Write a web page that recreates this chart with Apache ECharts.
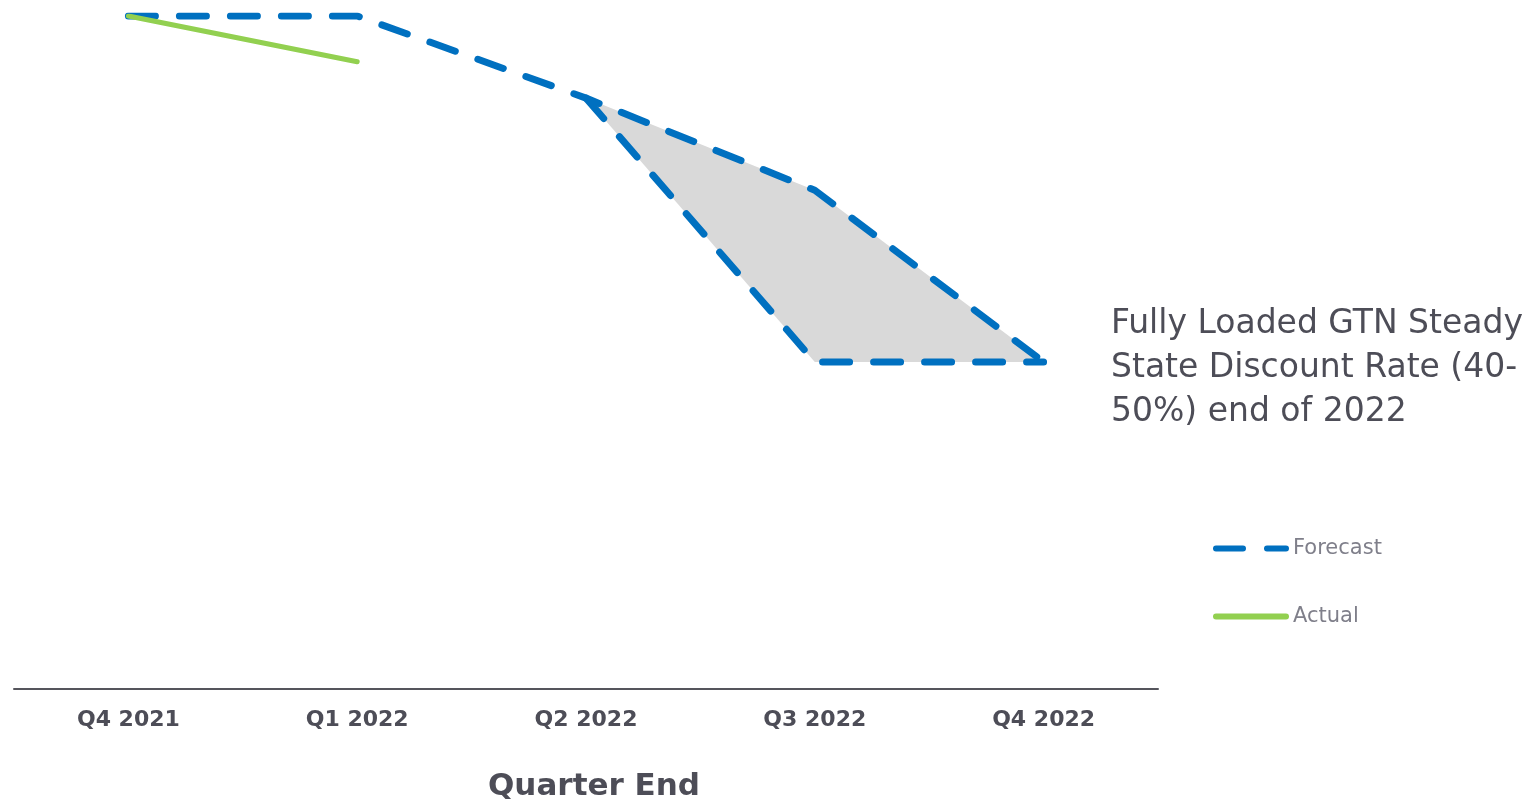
<!DOCTYPE html>
<html>
<head>
<meta charset="utf-8">
<script src="https://cdn.jsdelivr.net/npm/echarts@6/dist/echarts.min.js"></script>
<style>
  html, body { margin: 0; padding: 0; background: #fff; }
  #main { width: 1530px; height: 804px; }
</style>
</head>
<body>
<div id="main"></div>
<script>
var quarters = ['Q4 2021', 'Q1 2022', 'Q2 2022', 'Q3 2022', 'Q4 2022'];
// forecast range (upper / lower edge), arbitrary index units
var forecastHigh = [100, 100, 87.8, 74.1, 48.6];
var forecastLow = [null, null, 87.8, 48.6, 48.6];
var actual = [100, 93.2, null, null, null];

var bandBase = forecastLow;
var bandSize = forecastLow.map(function(v, i) {
    return v == null ? null : +(forecastHigh[i] - v).toFixed(1);
});

var blue = '#0070C0';
var green = '#92D050';
var textColor = '#4d4d57';
var dash = {
    type: [27, 24],
    width: 7,
    cap: 'round',
    color: blue
};

var chart = echarts.init(document.getElementById('main'));
var option = {
    animation: false,
    grid: {
        left: 14,
        right: 372,
        top: 16,
        bottom: 115,
        containLabel: false,
        outerBoundsMode: 'none'
    },
    legend: {
        orient: 'vertical',
        left: 1213,
        top: 538,
        padding: 0,
        itemWidth: 70,
        itemHeight: 8,
        itemGap: 47,
        data: ['Forecast', 'Actual'],
        itemStyle: { opacity: 0 },
        lineStyle: { width: 6, cap: 'round' },
        textStyle: {
            color: '#7f7f8a',
            fontSize: 21,
            fontFamily: 'DejaVu Sans',
            padding: [0, 0, 0, 2]
        }
    },
    graphic: [{
        type: 'text',
        left: 1111,
        top: 302,
        style: {
            text: 'Fully Loaded GTN Steady\nState Discount Rate (40-\n50%) end of 2022',
            fill: textColor,
            font: '33px "DejaVu Sans"',
            lineHeight: 44
        }
    }],
    xAxis: {
        type: 'category',
        data: quarters,
        boundaryGap: true,
        name: 'Quarter End',
        nameLocation: 'middle',
        nameGap: 82,
        nameTextStyle: {
            color: textColor,
            fontSize: 31,
            fontWeight: 'bold',
            fontFamily: 'DejaVu Sans',
            padding: [0, 0, 0, 16]
        },
        axisLine: { lineStyle: { color: '#55555c', width: 2 } },
        axisTick: { show: false },
        axisLabel: {
            margin: 20,
            color: textColor,
            fontSize: 22,
            fontWeight: 'bold',
            fontFamily: 'DejaVu Sans'
        }
    },
    yAxis: {
        type: 'value',
        min: 0,
        max: 100,
        show: false
    },
    series: [
        {
            name: 'band-base',
            type: 'line',
            stack: 'band',
            data: bandBase,
            symbol: 'none',
            lineStyle: { opacity: 0 },
            silent: true
        },
        {
            name: 'band',
            type: 'line',
            stack: 'band',
            data: bandSize,
            symbol: 'none',
            lineStyle: { opacity: 0 },
            areaStyle: { color: '#d9d9d9', opacity: 1 },
            silent: true
        },
        {
            name: 'Forecast',
            type: 'line',
            data: forecastLow,
            symbol: 'none',
            color: blue,
            lineStyle: dash,
            z: 3
        },
        {
            name: 'Forecast',
            type: 'line',
            data: forecastHigh,
            symbol: 'none',
            color: blue,
            lineStyle: dash,
            z: 3
        },
        {
            name: 'Actual',
            type: 'line',
            data: actual,
            symbol: 'none',
            color: green,
            lineStyle: { width: 5, color: green, cap: 'round' },
            z: 4
        }
    ]
};
chart.setOption(option);
</script>
</body>
</html>
